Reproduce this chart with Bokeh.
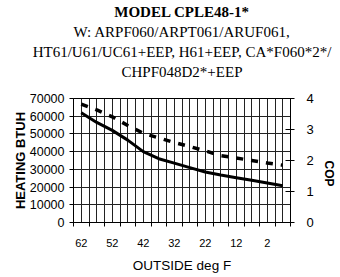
import math
from bokeh.plotting import figure
from bokeh.models import Range1d, LinearAxis, FixedTicker, Title, Grid
from bokeh.embed import file_html
from bokeh.resources import INLINE

# ---- data ----
outside_f = [62, 57, 52, 47, 42, 37, 32, 27, 22, 17, 12, 7, 2, -3]
heating_btuh = [62000, 56500, 52000, 46500, 40000, 36000, 33500, 31000,
                28500, 26800, 25300, 23800, 22300, 20800]
cop = [3.82, 3.63, 3.41, 3.13, 2.88, 2.73, 2.58, 2.45, 2.31, 2.16,
       2.08, 2.00, 1.92, 1.85]
x_tick_labels = [62, 52, 42, 32, 22, 12, 2]
btuh_ticks = [0, 10000, 20000, 30000, 40000, 50000, 60000, 70000]
cop_ticks = [0, 1, 2, 3, 4]
title_lines = [
    "MODEL CPLE48-1*",
    "W: ARPF060/ARPT061/ARUF061,",
    "HT61/U61/UC61+EEP, H61+EEP, CA*F060*2*/",
    "CHPF048D2*+EEP",
]

x_left, x_right = 64.5, -5.5
cat_bounds = [x_left - 5 * k for k in range(15)]
grid_pos = [x_left - 2.5 * k for k in range(29)]

p = figure(frame_width=217, frame_height=124,
           x_range=Range1d(x_left, x_right),
           y_range=Range1d(0, 70000), output_backend="svg",
           toolbar_location=None, title_location=None,
           x_axis_type=None, y_axis_type=None,
           min_border_left=73, min_border_right=42,
           min_border_top=10, min_border_bottom=20)
p.background_fill_color = "white"
p.border_fill_color = "white"
p.outline_line_color = "black"
p.outline_line_width = 1

p.extra_y_ranges = {"cop": Range1d(0, 4)}

tick_font = "Liberation Sans"

xa = LinearAxis(ticker=FixedTicker(ticks=x_tick_labels, minor_ticks=cat_bounds))
xa.major_tick_out = 0
xa.major_tick_in = 0
xa.minor_tick_out = 4
xa.minor_tick_in = 0
xa.axis_line_color = "black"
xa.major_label_text_font = tick_font
xa.major_label_text_font_size = "11px"
xa.major_label_text_color = "black"
xa.major_label_standoff = 12
xa.axis_label = "OUTSIDE deg F"
xa.axis_label_text_font = tick_font
xa.axis_label_text_font_size = "13.5px"
xa.axis_label_text_font_style = "normal"
xa.axis_label_text_color = "black"
xa.axis_label_standoff = 8
p.add_layout(xa, "below")

ya = LinearAxis(ticker=FixedTicker(ticks=btuh_ticks))
ya.major_label_overrides = {t: str(t) for t in btuh_ticks}
ya.major_tick_out = 4
ya.major_tick_in = 0
ya.minor_tick_out = 0
ya.minor_tick_in = 0
ya.axis_line_color = "black"
ya.major_label_text_font = tick_font
ya.major_label_text_font_size = "12.5px"
ya.major_label_text_color = "black"
ya.major_label_standoff = 5
ya.axis_label = "HEATING BTUH"
ya.axis_label_text_font = tick_font
ya.axis_label_text_font_size = "13px"
ya.axis_label_text_font_style = "bold"
ya.axis_label_text_color = "black"
ya.axis_label_standoff = -1
p.add_layout(ya, "left")

ra = LinearAxis(y_range_name="cop", ticker=FixedTicker(ticks=cop_ticks))
ra.major_tick_out = 4
ra.major_tick_in = 5
ra.minor_tick_out = 0
ra.minor_tick_in = 0
ra.axis_line_color = "black"
ra.major_label_text_font = tick_font
ra.major_label_text_font_size = "13px"
ra.major_label_text_color = "black"
ra.major_label_standoff = 12
ra.axis_label = "COP"
ra.axis_label_orientation = -math.pi / 2
ra.axis_label_text_font = tick_font
ra.axis_label_text_font_size = "12px"
ra.axis_label_text_font_style = "bold"
ra.axis_label_text_color = "black"
ra.axis_label_standoff = 12
p.add_layout(ra, "right")

xg = Grid(dimension=0, ticker=FixedTicker(ticks=grid_pos),
          grid_line_color="#222222", grid_line_width=1)
yg = Grid(dimension=1, ticker=FixedTicker(ticks=btuh_ticks),
          grid_line_color="#222222", grid_line_width=1)
p.add_layout(xg, "center")
p.add_layout(yg, "center")

p.line(outside_f, heating_btuh, line_color="black", line_width=3)
p.line(outside_f, cop, y_range_name="cop", line_color="black",
       line_width=3.5, line_dash="7 8")

# spacer between the frame and the title block
p.add_layout(Title(text=" ", text_font_size="10px", standoff=5), "above")
for i, txt in reversed(list(enumerate(title_lines))):
    t = Title(text=txt, align="center", text_font="Liberation Serif",
              text_font_size="15px",
              text_font_style="bold" if i == 0 else "normal",
              text_color="black", standoff=2)
    p.add_layout(t, "above")

open("out.html", "w").write(file_html(p, INLINE))
